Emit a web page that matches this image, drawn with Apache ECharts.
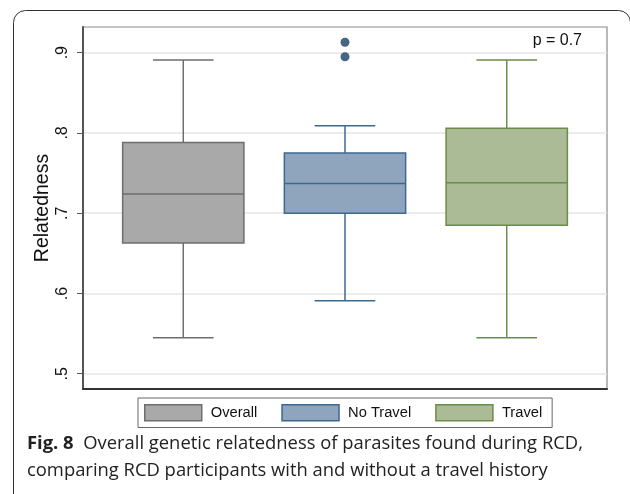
<!DOCTYPE html>
<html><head><meta charset="utf-8">
<script src="https://cdn.jsdelivr.net/npm/echarts@6/dist/echarts.min.js"></script>
<style>html,body{margin:0;padding:0;background:#fff}#c{width:630px;height:494px}</style>
</head><body><div id="c"></div>
<script>
const categories = ['Overall', 'No Travel', 'Travel'];
// [min whisker, Q1, median, Q3, max whisker]
const overallBox = [0.545, 0.663, 0.724, 0.788, 0.891];
const noTravelBox = [0.591, 0.700, 0.737, 0.775, 0.809];
const travelBox = [0.545, 0.685, 0.738, 0.806, 0.891];
const noTravelOutliers = [0.913, 0.895];
const yTicks = [0.5, 0.6, 0.7, 0.8, 0.9];
const pText = 'p = 0.7';

const styles = [
  {fill: '#a9a9a9', stroke: '#6e6e6e'},
  {fill: '#8fa5bd', stroke: '#3d6990'},
  {fill: '#aabb95', stroke: '#6b8d4b'}
];
const boxes = [overallBox, noTravelBox, travelBox];

function renderBox(params, api) {
  const x = api.value(0);
  const v = [api.value(1), api.value(2), api.value(3), api.value(4), api.value(5)];
  const band = api.size([1, 0])[0];
  const bw = band * 0.75, cw = bw / 2;
  const p = v.map(val => api.coord([x, val]));
  const cx = p[0][0];
  const st = styles[params.seriesIndex];
  const ls = {stroke: st.stroke, lineWidth: 1.5, fill: null};
  return {type: 'group', children: [
    {type: 'line', shape: {x1: cx, y1: p[0][1], x2: cx, y2: p[1][1]}, style: ls},
    {type: 'line', shape: {x1: cx, y1: p[3][1], x2: cx, y2: p[4][1]}, style: ls},
    {type: 'line', shape: {x1: cx - cw/2, y1: p[0][1], x2: cx + cw/2, y2: p[0][1]}, style: ls},
    {type: 'line', shape: {x1: cx - cw/2, y1: p[4][1], x2: cx + cw/2, y2: p[4][1]}, style: ls},
    {type: 'rect', shape: {x: cx - bw/2, y: p[3][1], width: bw, height: p[1][1] - p[3][1]},
      style: {fill: st.fill, stroke: st.stroke, lineWidth: 1.5}},
    {type: 'line', shape: {x1: cx - bw/2, y1: p[2][1], x2: cx + bw/2, y2: p[2][1]}, style: ls}
  ]};
}

const series = categories.map((name, i) => ({
  name: name, type: 'custom', renderItem: renderBox,
  itemStyle: {color: styles[i].fill, borderColor: styles[i].stroke, borderWidth: 1.5},
  data: [[i + 1].concat(boxes[i])], z: 3
}));
series.push({
  name: 'outliers', type: 'scatter', symbolSize: 9,
  itemStyle: {color: '#173f66'}, z: 4,
  data: noTravelOutliers.map(v => [2, v])
});

const chart = echarts.init(document.getElementById('c'), null, {renderer: 'canvas'});
chart.setOption({
  animation: false,
  grid: {left: 83, top: 27, width: 524, height: 362, show: true, borderColor: '#8a8a8a', borderWidth: 1.2, backgroundColor: '#fff'},
  xAxis: {type: 'value', min: 0.38, max: 3.62, axisLine: {show: true, onZero: false, lineStyle: {color: '#333', width: 2}},
    axisTick: {show: false}, axisLabel: {show: false}, splitLine: {show: false}},
  yAxis: {type: 'value', min: 0.481, max: 0.932,
    name: 'Relatedness', nameLocation: 'middle', nameGap: 30, nameRotate: 90, nameMoveOverlap: false,
    nameTextStyle: {fontFamily: 'Liberation Sans', fontSize: 19.5, color: '#111'},
    axisLine: {show: true, lineStyle: {color: '#555', width: 2}},
    axisTick: {show: true, length: 6, customValues: yTicks, lineStyle: {color: '#555', width: 1}},
    axisLabel: {customValues: yTicks, rotate: 90, margin: 12, fontFamily: 'Liberation Sans', fontSize: 16, color: '#111',
      formatter: v => v.toFixed(1).replace(/^0/, '')},
    splitLine: {show: true, lineStyle: {color: '#e6e6e6', width: 1.5}}},
  legend: {data: categories, left: 138, top: 398, orient: 'horizontal',
    itemWidth: 57, itemHeight: 16, itemGap: 24, padding: [6, 10, 6, 6],
    borderColor: '#666', borderWidth: 1, icon: 'rect',
    itemStyle: {borderWidth: 1.5},
    textStyle: {fontFamily: 'Liberation Sans', fontSize: 14.7, color: '#111', padding: [0, 0, 0, 4]}},
  graphic: [
    {type: 'rect', left: 11, top: 8, shape: {width: 617, height: 500, r: 12},
      style: {fill: null, stroke: '#333', lineWidth: 1}, z: 0, silent: true},
    {type: 'text', right: 48, top: 33, style: {text: pText, font: '16px "Liberation Sans"', fill: '#111'}, z: 10},
    {type: 'text', left: 27, top: 430, style: {
      text: '{b|Fig. 8}  Overall genetic relatedness of parasites found during RCD,\ncomparing RCD participants with and without a travel history',
      font: '18.4px "Open Sans"', fill: '#222', lineHeight: 27,
      rich: {b: {fontWeight: 'bold', fontSize: 18.4, fontFamily: 'Open Sans', fill: '#222'}}}, z: 10}
  ],
  series: series
});
</script></body></html>
